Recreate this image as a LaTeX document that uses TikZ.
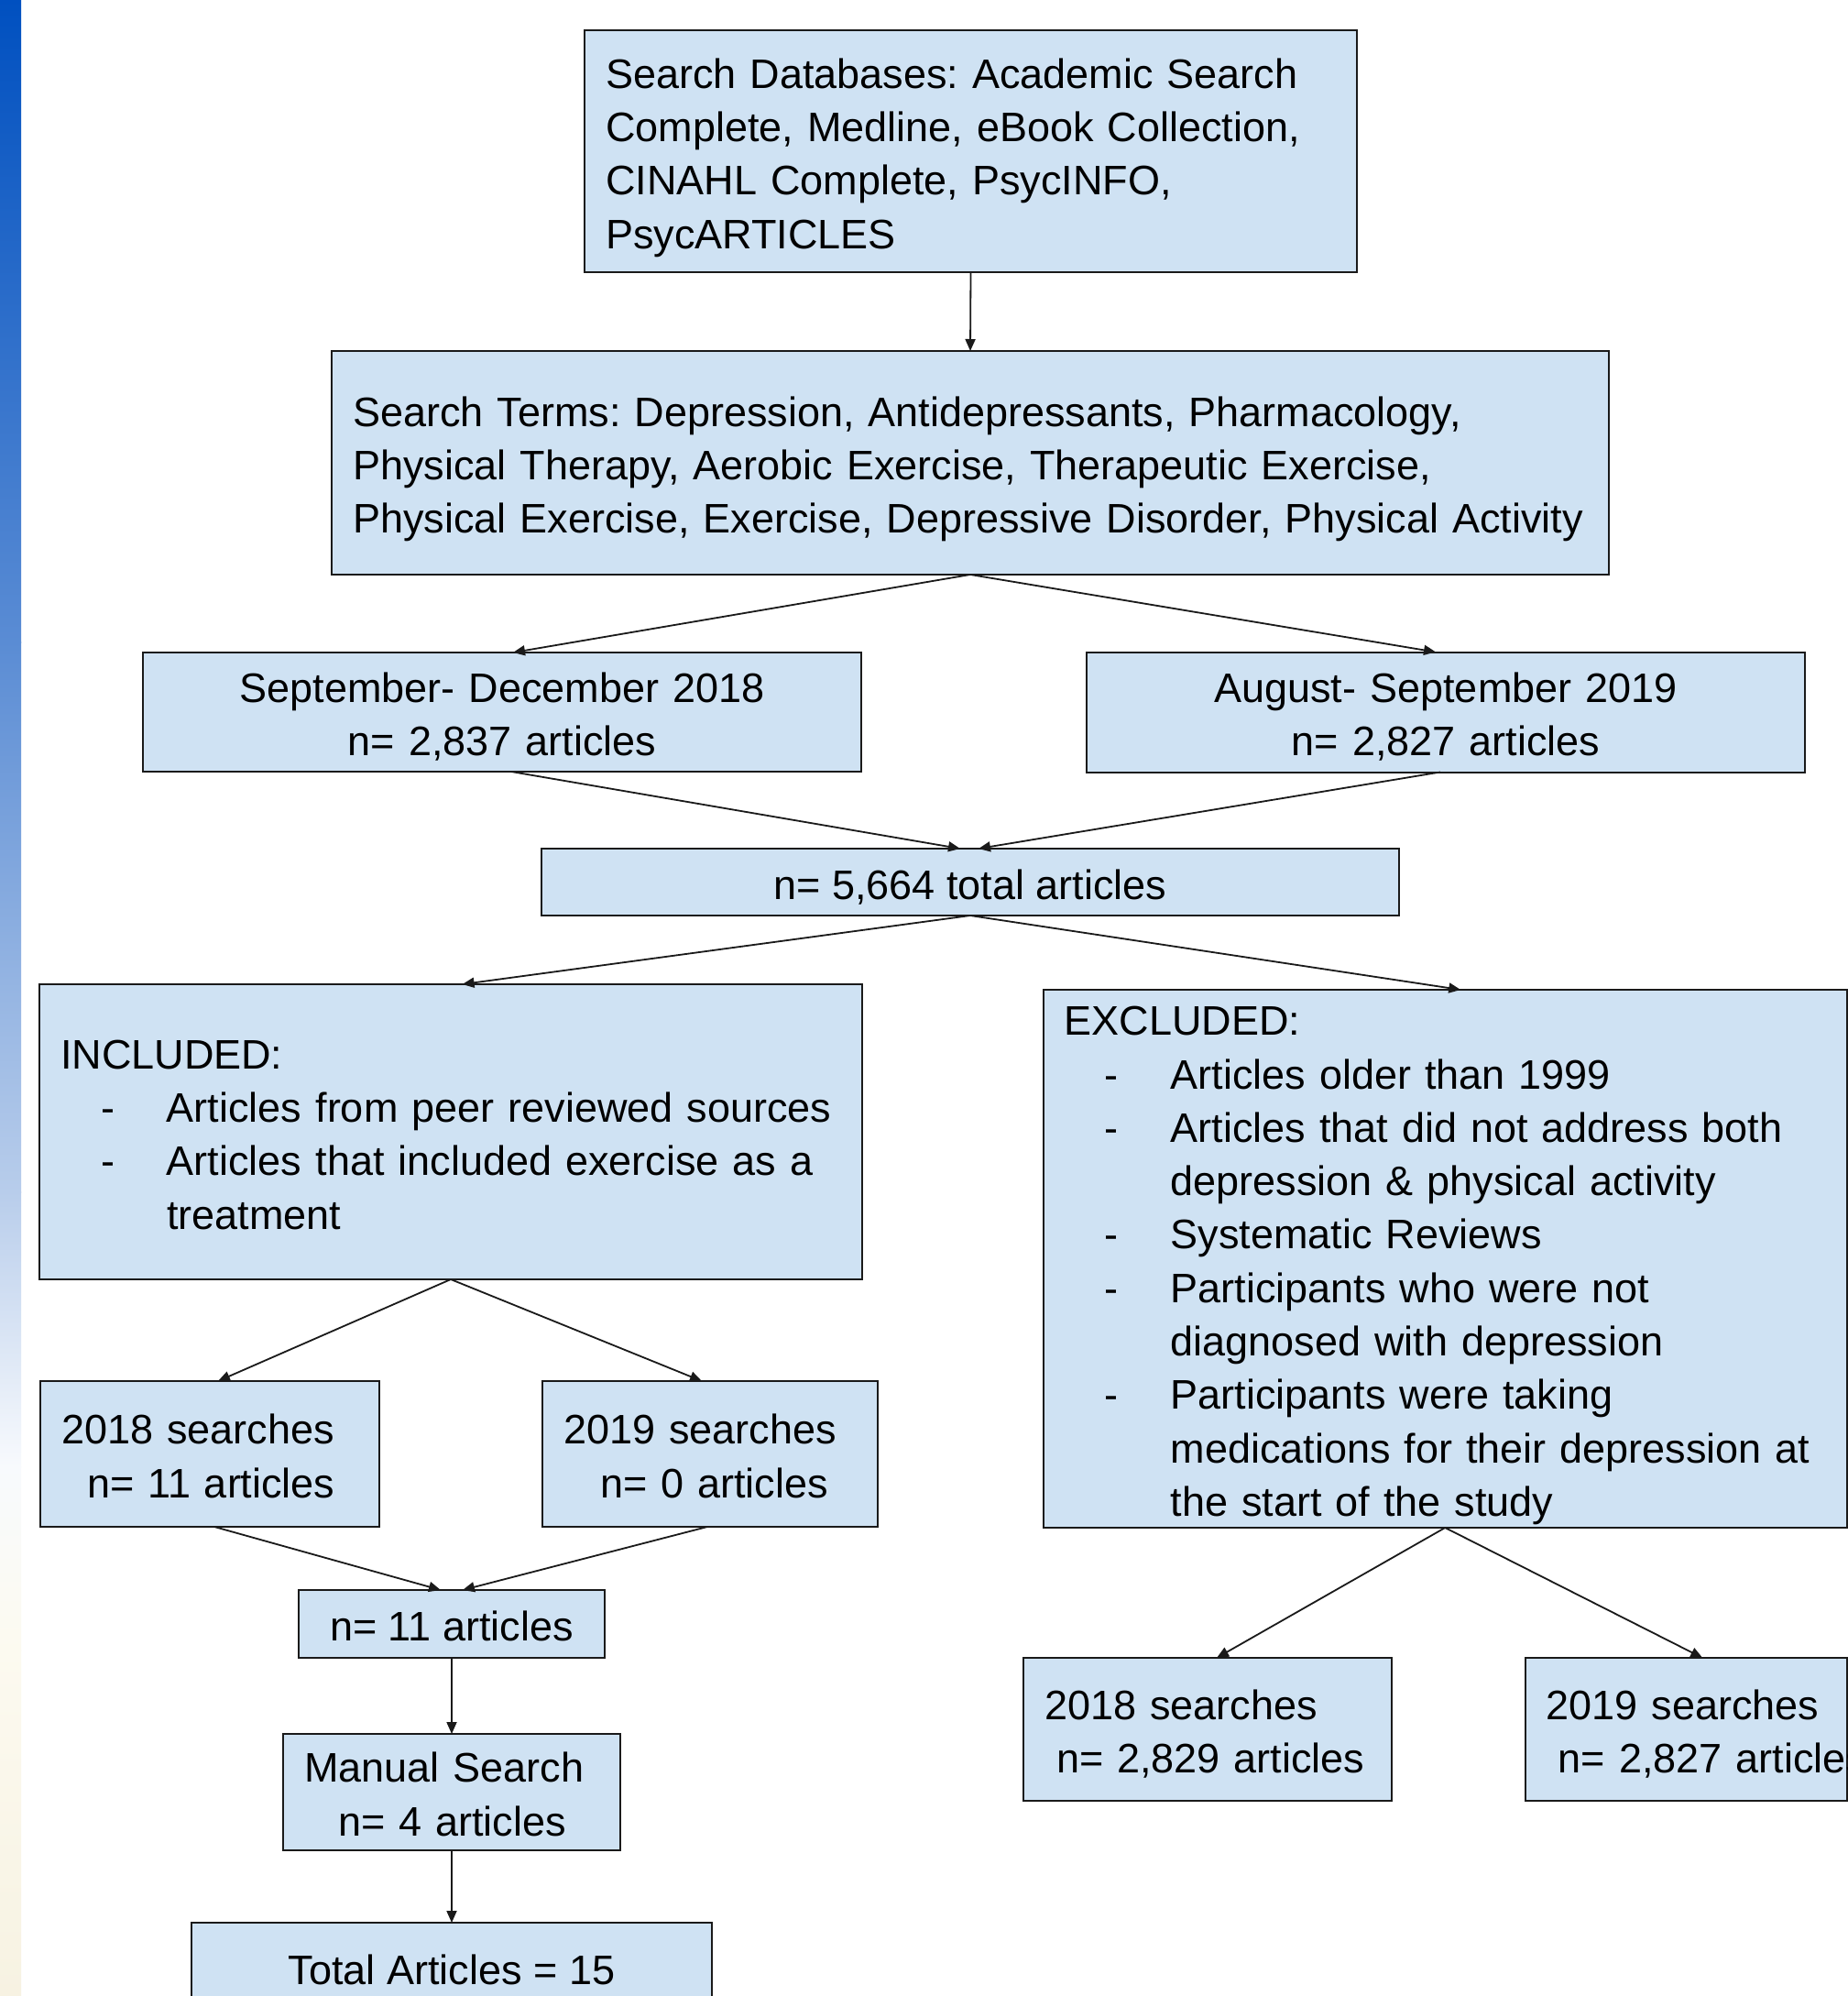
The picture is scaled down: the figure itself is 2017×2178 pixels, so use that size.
\documentclass[tikz,border=0pt]{standalone}
\usepackage{fontspec}
\setmainfont{Liberation Sans}
\usetikzlibrary{arrows.meta}
\definecolor{boxc}{RGB}{207,226,243}
\definecolor{linec}{RGB}{26,26,26}
\definecolor{st0}{RGB}{247,242,226}
\definecolor{st1}{RGB}{252,250,240}
\definecolor{st2}{RGB}{248,250,253}
\definecolor{st3}{RGB}{184,205,235}
\definecolor{st4}{RGB}{90,140,212}
\definecolor{st5}{RGB}{0,80,192}
\newcommand{\fsz}{\fontsize{22.5pt}{29.15pt}\selectfont\frenchspacing}
\newcommand{\stt}{\rule[-4.8pt]{0pt}{28.2pt}}
\newcommand{\itm}[1]{\hspace*{22pt}\makebox[36pt][l]{-}\mbox{#1}}
\newcommand{\cnt}[1]{\hspace*{58pt}\mbox{#1}}
\tikzset{
  box/.style={draw=linec, fill=boxc, line width=1pt, rectangle, inner xsep=11.5pt, inner ysep=0pt, outer sep=0pt, font=\fsz, text=black,
    execute at begin node=\stt, execute at end node=\stt},
  lbox/.style={box, align=left},
  cbox/.style={box, align=center},
  conn/.style={draw=linec, line width=0.9pt, -{Triangle[length=6.5pt,width=5.5pt]}}
}
\begin{document}
\begin{tikzpicture}[x=0.5pt,y=-0.5pt]
\useasboundingbox (0,0) rectangle (2017,2178);
\clip (0,0) rectangle (2017,2178);
\fill[white] (0,0) rectangle (2017,2178);
% left decorative strip
\shade[top color=st5, bottom color=st4] (0,0) rectangle (23,701);
\shade[top color=st4, bottom color=st3] (0,700) rectangle (23,1301);
\shade[top color=st3, bottom color=st2] (0,1300) rectangle (23,1601);
\shade[top color=st2, bottom color=st1] (0,1600) rectangle (23,1801);
\shade[top color=st1, bottom color=st0] (0,1800) rectangle (23,2178);

\node[lbox, minimum width=421.5pt, minimum height=132pt, text width=398.5pt] (db) at (1059.5,165)
 {\mbox{Search Databases: Academic Search}\\\mbox{Complete, Medline, eBook Collection,}\\\mbox{CINAHL Complete, PsycINFO,}\\PsycARTICLES};
\node[lbox, minimum width=697pt, minimum height=122pt, text width=674pt] (terms) at (1059,505)
 {\mbox{Search Terms: Depression, Antidepressants, Pharmacology,}\\\mbox{Physical Therapy, Aerobic Exercise, Therapeutic Exercise,}\\\mbox{Physical Exercise, Exercise, Depressive Disorder, Physical Activity}};
\node[cbox, minimum width=392pt, minimum height=65pt, text width=369pt] (sep18) at (548,777)
 {September- December 2018\\n= 2,837 articles};
\node[cbox, minimum width=392pt, minimum height=65.5pt, text width=369pt] (aug19) at (1578,777)
 {August- September 2019\\n= 2,827 articles};
\node[cbox, minimum width=468pt, minimum height=36.5pt] (total) at (1059,962.5)
 {n= 5,664 total articles};
\node[lbox, minimum width=449pt, minimum height=161pt, text width=426pt] (incl) at (492,1235)
 {INCLUDED:\\\itm{Articles from peer reviewed sources}\\\itm{Articles that included exercise as a}\\\cnt{treatment}};
\node[lbox, minimum width=438.5pt, minimum height=293.5pt, text width=415.5pt] (excl) at (1577.25,1373.5)
 {EXCLUDED:\\\itm{Articles older than 1999}\\\itm{Articles that did not address both}\\\cnt{depression \& physical activity}\\\itm{Systematic Reviews}\\\itm{Participants who were not}\\\cnt{diagnosed with depression}\\\itm{Participants were taking}\\\cnt{medications for their depression at}\\\cnt{the start of the study}};
\node[lbox, minimum width=185pt, minimum height=79.5pt, text width=162pt] (s18) at (229,1586.5)
 {\mbox{2018 searches}\\\hspace*{14pt}\mbox{n= 11 articles}};
\node[lbox, minimum width=183pt, minimum height=79.5pt, text width=160pt] (s19) at (775,1586.5)
 {\mbox{2019 searches}\\\hspace*{20pt}\mbox{n= 0 articles}};
\node[cbox, minimum width=167pt, minimum height=37pt] (n11) at (493,1772)
 {n= 11 articles};
\node[lbox, minimum width=184pt, minimum height=63.5pt, text width=161pt] (manual) at (493,1955.5)
 {\mbox{Manual Search}\\\hspace*{18.5pt}\mbox{n= 4 articles}};
\node[cbox, minimum width=284pt, minimum height=48.5pt] (final) at (493,2146.5)
 {Total Articles = 15};
\node[lbox, minimum width=201pt, minimum height=78pt, text width=178pt] (e18) at (1318,1887)
 {\mbox{2018 searches}\\\hspace*{6.5pt}\mbox{n= 2,829 articles}};
\node[lbox, minimum width=175.5pt, minimum height=78pt, text width=152.5pt] (e19) at (1840.25,1887)
 {\mbox{2019 searches}\\\hspace*{6.5pt}\mbox{n= 2,827 articles}};

\draw[conn] (db.south) -- (terms.north);
\draw[conn] (terms.south) -- ([xshift=6pt]sep18.north);
\draw[conn] (terms.south) -- ([xshift=-5.5pt]aug19.north);
\draw[conn] ([xshift=5pt]sep18.south) -- ([xshift=-5.5pt]total.north);
\draw[conn] ([xshift=-3pt]aug19.south) -- ([xshift=4.5pt]total.north);
\draw[conn] (total.south) -- ([xshift=6.3pt]incl.north);
\draw[conn] (total.south) -- ([xshift=8.5pt]excl.north);
\draw[conn] (incl.south) -- ([xshift=4.5pt]s18.north);
\draw[conn] (incl.south) -- ([xshift=-4.5pt]s19.north);
\draw[conn] ([xshift=2.5pt]s18.south) -- ([xshift=-6pt]n11.north);
\draw[conn] ([xshift=-1.5pt]s19.south) -- ([xshift=6pt]n11.north);
\draw[conn] (n11.south) -- (manual.north);
\draw[conn] (manual.south) -- (final.north);
\draw[conn] (excl.south) -- ([xshift=5pt]e18.north);
\draw[conn] (excl.south) -- ([xshift=9pt]e19.north);
\end{tikzpicture}
\end{document}
